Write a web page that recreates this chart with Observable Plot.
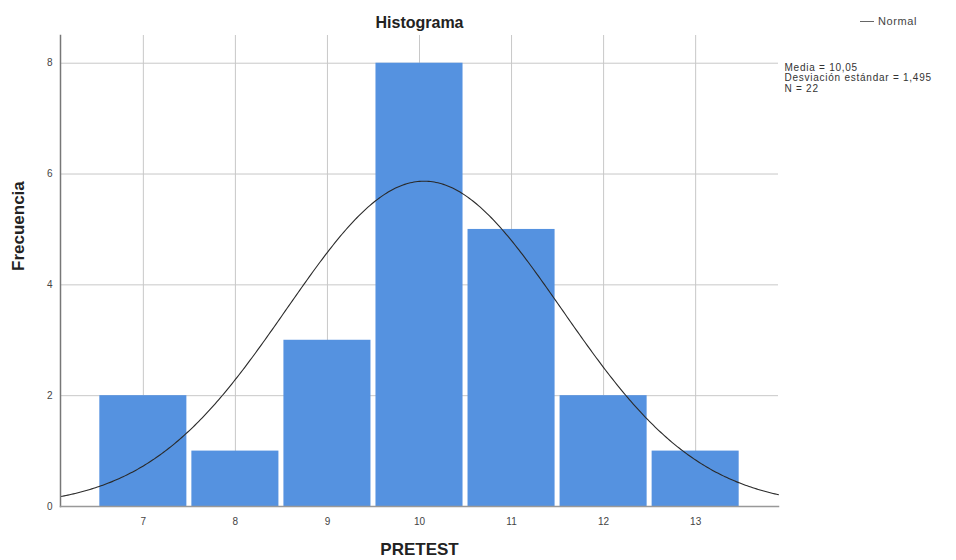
<!DOCTYPE html>
<html>
<head>
<meta charset="utf-8">
<script src="https://cdn.jsdelivr.net/npm/d3@7"></script>
<script src="https://cdn.jsdelivr.net/npm/@observablehq/plot@0.6"></script>
<style>
  html, body { margin: 0; padding: 0; background: #fff; }
  #wrap { position: relative; width: 956px; height: 560px; }
  #legend { position: absolute; left: 860px; top: 15px; font: 11px "Liberation Sans", Arial, sans-serif; letter-spacing: 0.6px; color: #444; display: flex; align-items: center; gap: 4px; }
  #legend span.l { display: inline-block; width: 14px; height: 0; border-top: 1px solid #666; }
  .stats text { letter-spacing: 0.75px; }
</style>
</head>
<body>
<div id="wrap"><div id="legend"><span class="l"></span><span>Normal</span></div></div>
<script>
// Data
const categories = [7, 8, 9, 10, 11, 12, 13];
const counts = [2, 1, 3, 8, 5, 2, 1];
const yTicks = [0, 2, 4, 6, 8];
const mean = 10.05;
const sd = 1.495;
const n = 22;
const binWidth = 1;
const statsLines = ["Media = 10,05", "Desviación estándar = 1,495", "N = 22"];

const bars = categories.map((c, i) => ({x1: c - binWidth / 2, x2: c + binWidth / 2, y: counts[i]}));
const xDomain = [6.1, 13.9];
const curve = d3.range(xDomain[0], xDomain[1] + 0.001, 0.02).map(x => ({
  x, y: n * binWidth * Math.exp(-0.5 * ((x - mean) / sd) ** 2) / (sd * Math.sqrt(2 * Math.PI))
}));

const font = '"Liberation Sans", Arial, sans-serif';

const chart = Plot.plot({
  width: 956,
  height: 560,
  marginLeft: 60,
  marginRight: 178,
  marginTop: 35,
  marginBottom: 54,
  style: {fontFamily: font, fontSize: "10px", color: "#444", background: "#fff"},
  x: {domain: xDomain},
  y: {domain: [0, 8.5]},
  marks: [
    Plot.gridX(categories, {stroke: "#c8c8c8", strokeOpacity: 1}),
    Plot.gridY(yTicks.filter(d => d > 0), {stroke: "#c8c8c8", strokeOpacity: 1}),
    Plot.rectY(bars, {x1: "x1", x2: "x2", y: "y", fill: "#5592e0", insetLeft: 2.5, insetRight: 2.5}),
    Plot.line(curve, {x: "x", y: "y", stroke: "#2a2a2a", strokeWidth: 1.1}),
    Plot.frame({anchor: "left", stroke: "#777", strokeWidth: 1.5}),
    Plot.frame({anchor: "bottom", stroke: "#999", strokeWidth: 1.5}),
    Plot.axisX({ticks: categories, tickSize: 0, tickPadding: 11, label: null, fill: "#444", fontSize: 10}),
    Plot.axisY({ticks: yTicks, tickSize: 0, tickPadding: 8, label: null, fill: "#444", fontSize: 10}),
    Plot.text(["Histograma"], {frameAnchor: "top", dy: -13, lineAnchor: "middle", fontSize: 16, fontWeight: "bold", fill: "#222"}),
    Plot.text(["PRETEST"], {frameAnchor: "bottom", dy: 43, lineAnchor: "middle", fontSize: 17, fontWeight: "bold", fill: "#222"}),
    Plot.text(["Frecuencia"], {frameAnchor: "left", dx: -42, rotate: -90, fontSize: 17, fontWeight: "bold", fill: "#222"}),
    Plot.text([statsLines.join("\n")], {frameAnchor: "top-right", dx: 6, dy: 28, textAnchor: "start", lineAnchor: "top", lineHeight: 1.05, fontSize: 10, fill: "#333", className: "stats"})
  ]
});
document.getElementById("wrap").prepend(chart);
</script>
</body>
</html>
